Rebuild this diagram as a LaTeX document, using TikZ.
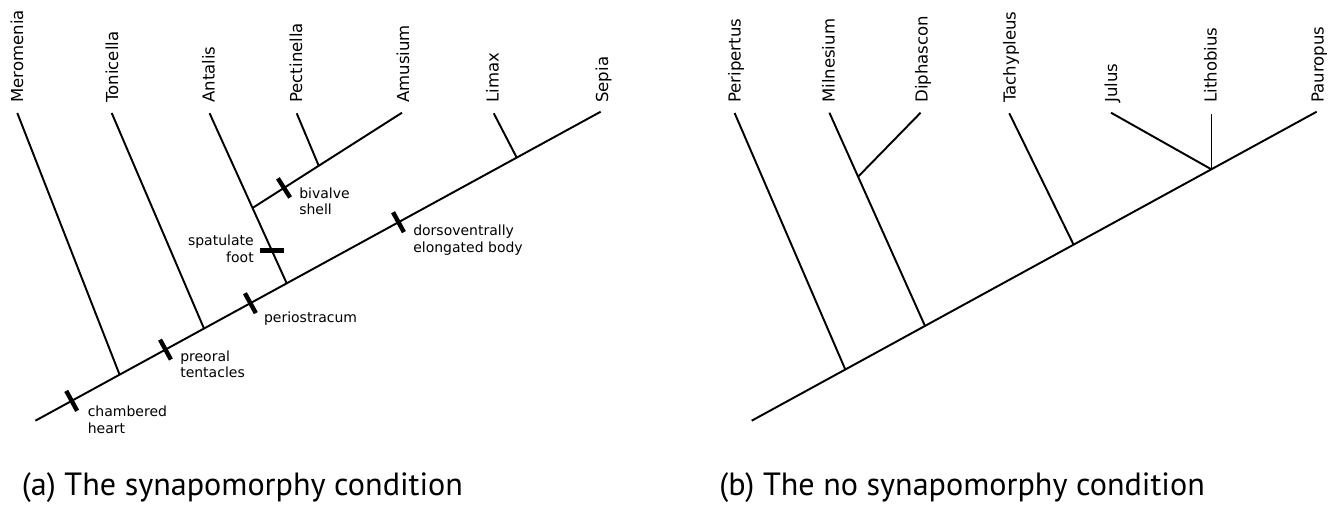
\documentclass[tikz,border=0pt]{standalone}
\usepackage{fontspec}
\setmainfont{DejaVu Sans}
\newfontfamily\capfont{PT Sans}
\begin{document}
\begin{tikzpicture}[x=0.75pt,y=-0.75pt,
  branch/.style={line width=1.45pt},
  tickmark/.style={fill=black, draw=none, inner sep=0pt, minimum width=3.3pt, minimum height=17pt, sloped},
  flattick/.style={fill=black, draw=none, inner sep=0pt, minimum width=18pt, minimum height=3.3pt},
  taxon/.style={rotate=90, anchor=base west, inner sep=0pt, font=\fontsize{12.4}{14}\selectfont},
  charlab/.style={inner sep=0pt, align=left, font=\fontsize{10.5}{12.45}\selectfont},
  caption/.style={anchor=base west, inner sep=0pt, font=\capfont\fontsize{24.1}{28}\selectfont}]
\useasboundingbox (0,0) rectangle (1335,509);
% ---------- left tree ----------
\coordinate (Lroot) at (35.4,420.7);
\coordinate (Sep) at (600.7,111.7);
\coordinate (Mer) at (17.3,113);
\coordinate (Merj) at (119.6,374.7);
\coordinate (Ton) at (111.7,113);
\coordinate (Tonj) at (204,328.5);
\coordinate (Ant) at (209.6,113.3);
\coordinate (Antj) at (286.7,283.3);
\coordinate (Biv) at (252.5,208);
\coordinate (Amu) at (402,112.7);
\coordinate (Pec) at (296.7,113.3);
\coordinate (Pecj) at (318.75,165.8);
\coordinate (Lim) at (493.75,113.3);
\coordinate (Limj) at (516.7,157.6);
\draw[branch] (Lroot) -- (Sep)
  node[pos=0.0642,tickmark] (t1) {}
  node[pos=0.2301,tickmark] (t2) {}
  node[pos=0.3803,tickmark] (t3) {}
  node[pos=0.6423,tickmark] (t4) {};
\draw[branch] (Mer) -- (Merj);
\draw[branch] (Ton) -- (Tonj);
\draw[branch] (Ant) -- (Antj) node[pos=0.808,flattick] (t5) {};
\draw[branch] (Biv) -- (Amu) node[pos=0.2107,tickmark] (t6) {};
\draw[branch] (Pec) -- (Pecj);
\draw[branch] (Lim) -- (Limj);
\node[taxon] (nMer) at (23,103) {Meromenia};
\node[taxon] (nTon) at (118,103) {Tonicella};
\node[taxon] (nAnt) at (214.5,103) {Antalis};
\node[taxon] (nPec) at (302,103) {Pectinella};
\node[taxon] (nAmu) at (409,103) {Amusium};
\node[taxon] (nLim) at (498.5,103) {Limax};
\node[taxon] (nSep) at (608,103) {Sepia};
\node[charlab, anchor=west] (c1) at (87.5,419.7) {chambered\\heart};
\node[charlab, anchor=west] (c2) at (180,364.2) {preoral\\tentacles};
\node[charlab, anchor=base west] (c3) at (263.75,322.3) {periostracum};
\node[charlab, anchor=west] (c4) at (299,201.4) {bivalve\\shell};
\node[charlab, anchor=east, align=right] (c5) at (254,249) {spatulate\\foot};
\node[charlab, anchor=west] (c6) at (413,240.2) {dorsoventrally\\elongated body};
% ---------- right tree ----------
\coordinate (Rroot) at (751.7,420.7);
\coordinate (Pau) at (1316.7,111.7);
\coordinate (Per) at (734.6,113);
\coordinate (Perj) at (845.3,369.5);
\coordinate (Mil) at (829.4,112.7);
\coordinate (Milj) at (925,326);
\coordinate (Dipj) at (858.1,176.7);
\coordinate (Dip) at (920.6,112.7);
\coordinate (Tac) at (1009.3,113.3);
\coordinate (Tacj) at (1073.6,244.7);
\coordinate (Jul) at (1111,112.7);
\coordinate (Lit) at (1211.5,114);
\coordinate (Julj) at (1211.5,169.4);
\draw[branch] (Rroot) -- (Pau);
\draw[branch] (Per) -- (Perj);
\draw[branch] (Mil) -- (Milj);
\draw[branch] (Dip) -- (Dipj);
\draw[branch] (Tac) -- (Tacj);
\draw[branch] (Jul) -- (Julj);
\draw[branch] (Lit) -- (Julj);
\node[taxon] (nPer) at (740.6,103) {Peripertus};
\node[taxon] (nMil) at (834.5,103) {Milnesium};
\node[taxon] (nDip) at (927.5,103) {Diphascon};
\node[taxon] (nTac) at (1015.5,103) {Tachypleus};
\node[taxon] (nJul) at (1117,103) {Julus};
\node[taxon] (nLit) at (1216.5,103) {Lithobius};
\node[taxon] (nPau) at (1323.5,103) {Pauropus};
% ---------- captions ----------
\node[caption] (capa) at (21.7,495) {(a) The synapomorphy condition};
\node[caption] (capb) at (719,495) {(b) The no synapomorphy condition};
\end{tikzpicture}
\end{document}
